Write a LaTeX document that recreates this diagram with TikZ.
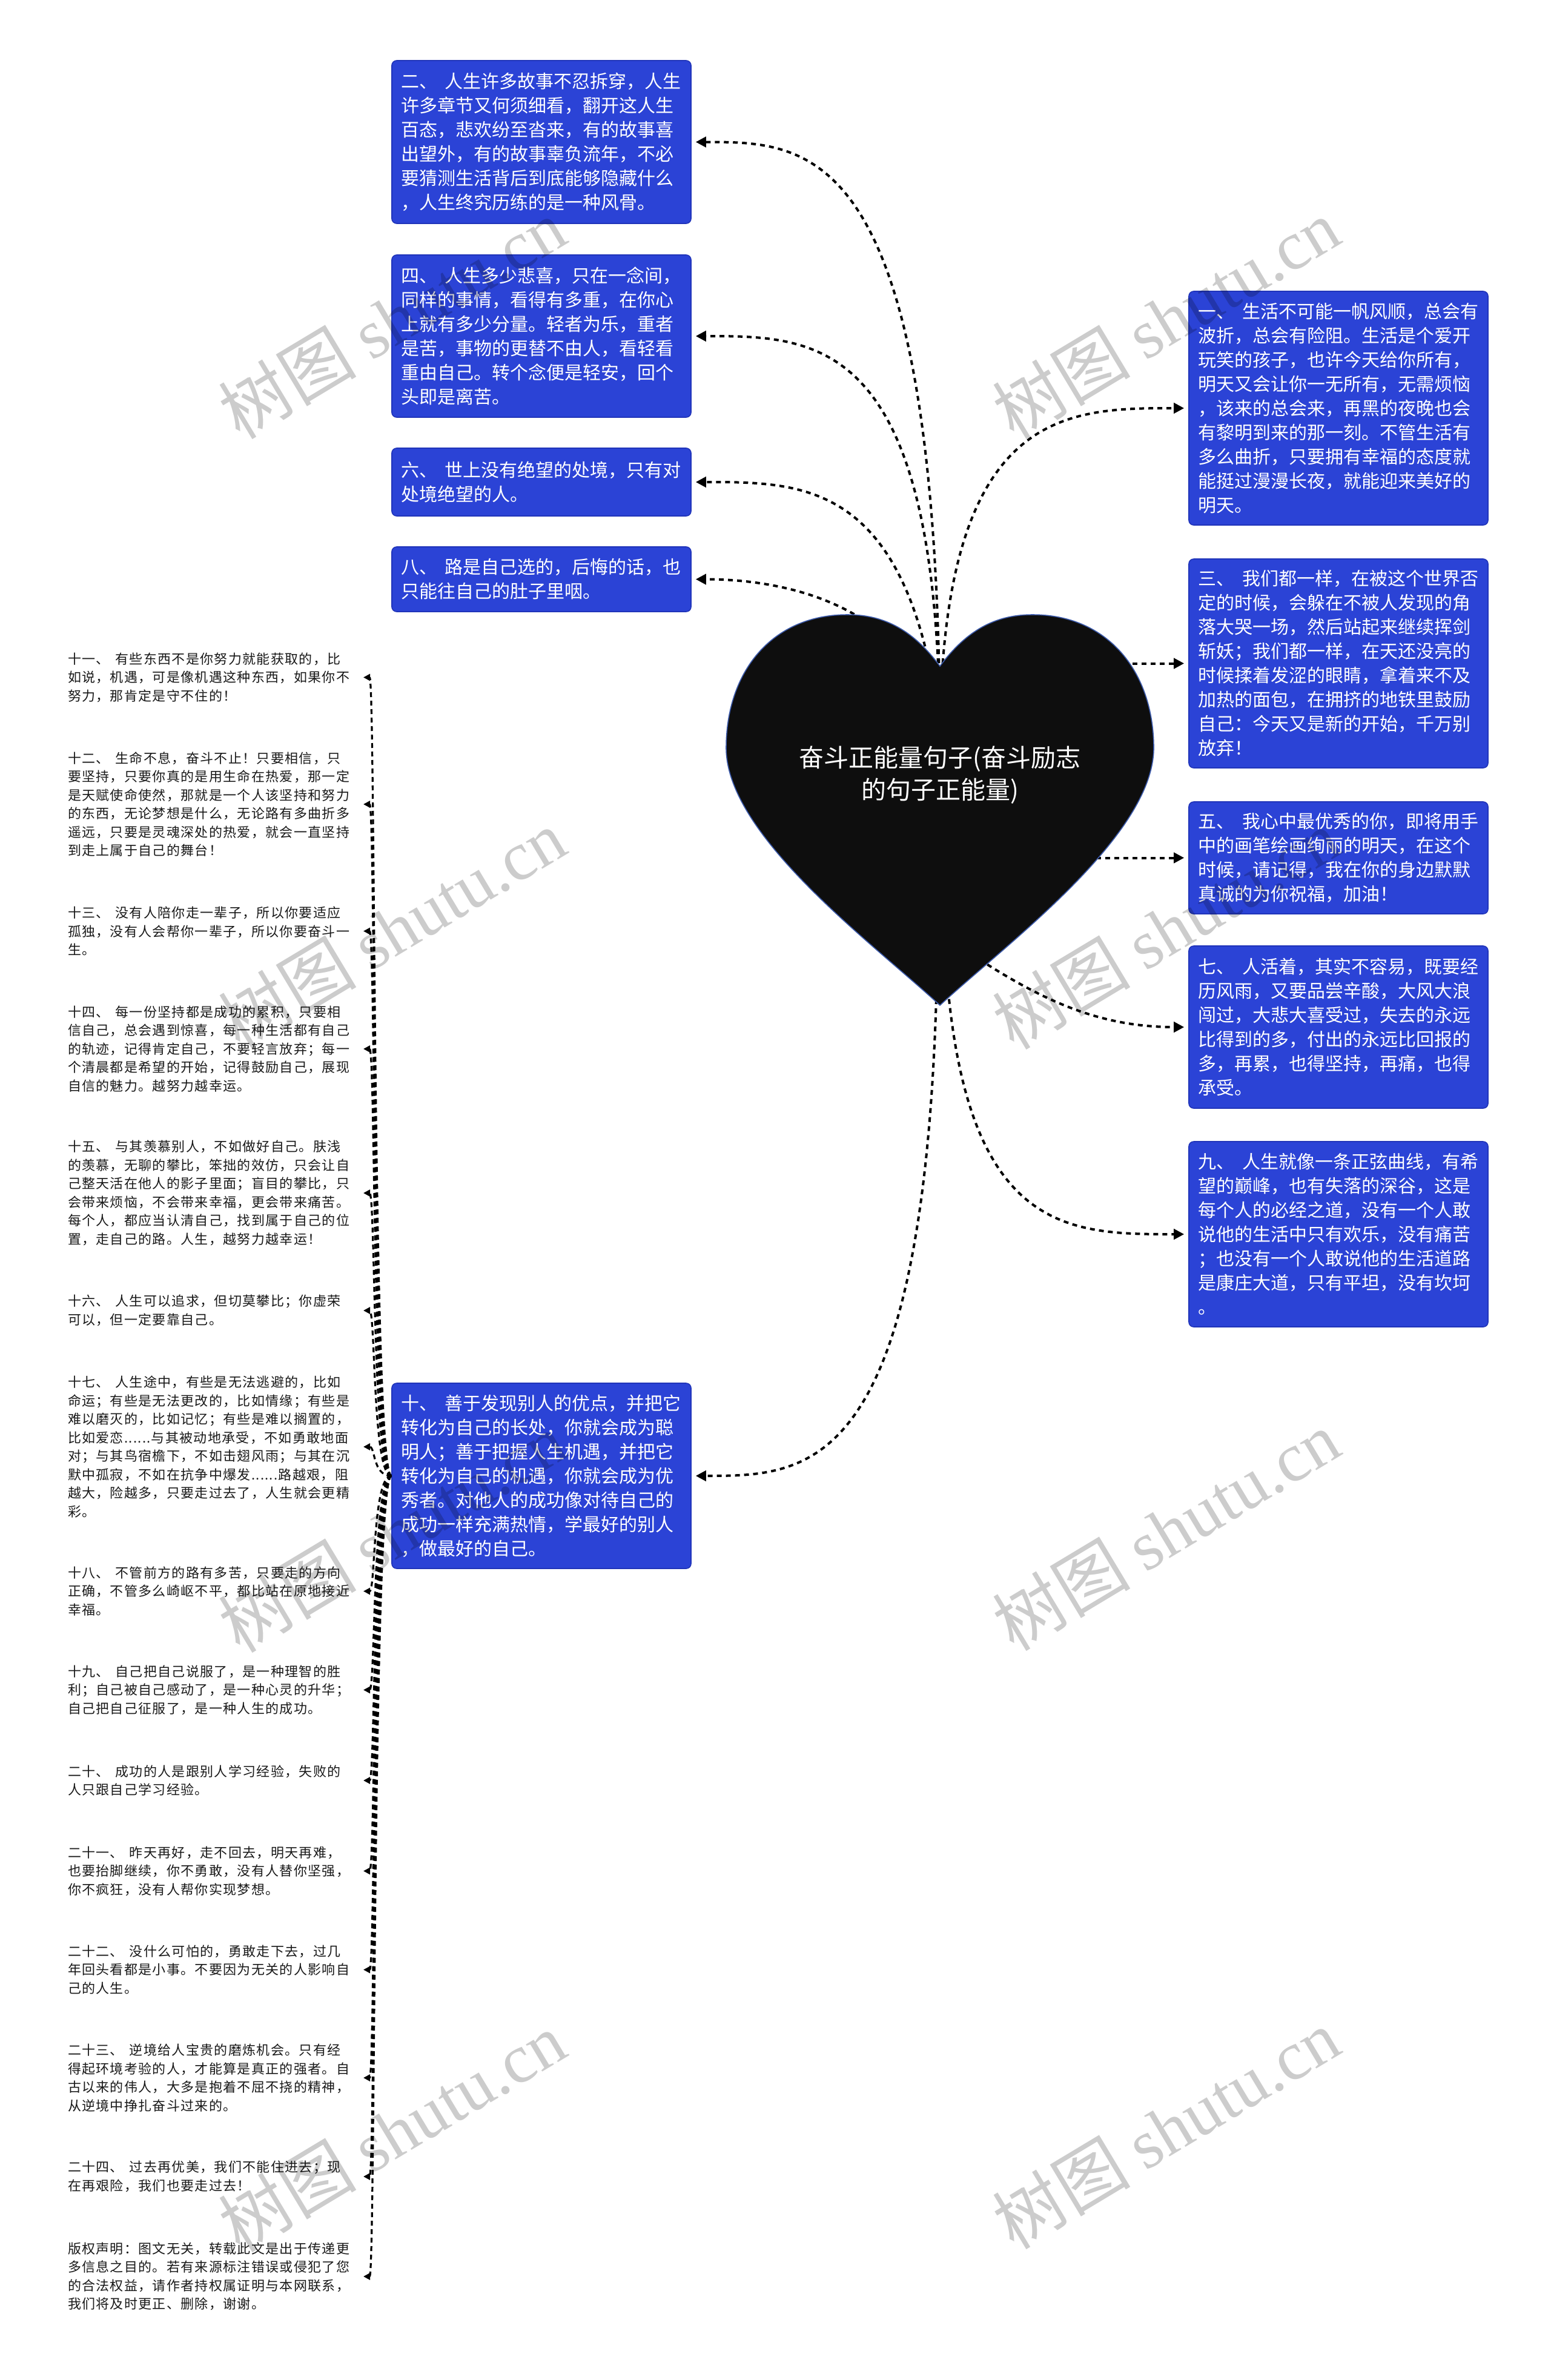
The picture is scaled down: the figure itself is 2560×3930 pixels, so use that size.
\documentclass[tikz,border=0pt]{standalone}
\usepackage{fontspec}
\usetikzlibrary{arrows.meta,calc}
\setmainfont{Noto Sans CJK SC}
\newfontfamily\cjkfont{Noto Sans CJK SC}
\newfontfamily\cjkwide[LetterSpace=6]{Noto Sans CJK SC}
\newfontfamily\wmserif{Liberation Serif}
\definecolor{boxblue}{RGB}{43,67,214}
\definecolor{boxedge}{RGB}{32,52,185}
\definecolor{heartfill}{RGB}{14,14,14}
\definecolor{heartedge}{RGB}{60,90,170}
\newcommand\myboxfont{\cjkfont\fontsize{15pt}{20pt}\selectfont}
\newcommand\myleftfont{\cjkwide\fontsize{11pt}{15.25pt}\selectfont}
\newcommand\mytitlefont{\cjkfont\fontsize{20.5pt}{26.5pt}\selectfont}
\newcommand\mywmfont{\fontsize{57pt}{60pt}\selectfont}
\newcommand\gapB{\kern6.5pt}
\newcommand\gapL{\kern5pt}
\tikzset{
  bluebox/.style={draw=boxedge, line width=0.8pt, fill=boxblue, rounded corners=4pt,
    text=white, text width=232pt, inner xsep=7.5pt, inner ysep=0pt, align=left, font=\myboxfont},
  lefttext/.style={text width=235pt, inner sep=0pt, outer xsep=9pt, align=left,
    font=\myleftfont, text=black!90, anchor=east},
  conn/.style={draw=black, line width=2pt, dash pattern=on 4pt off 3.5pt, shorten >=3.5pt,
    -{Triangle[length=8.5pt,width=8.5pt]}},
  lconn/.style={draw=black, line width=1.6pt, dash pattern=on 4pt off 3pt,
    -{Triangle[length=5.5pt,width=5.5pt]}},
  heartshape/.style={fill=heartfill, draw=heartedge, line width=0.8pt},
  titletext/.style={text=white, align=center, font=\mytitlefont, inner sep=0pt},
  wm/.style={rotate=31, text=black, text opacity=0.2, font=\mywmfont, inner sep=0pt}
}
\begin{document}
\begin{tikzpicture}[x=0.5pt, y=-0.5pt]
\fill[white] (0,0) rectangle (2560,3930);
\useasboundingbox (0,0) rectangle (2560,3930);

% ---------- left blue boxes ----------
\node[bluebox, minimum height=134.5pt] (b2) at (894,234.5) {二、\gapB 人生许多故事不忍拆穿，人生\\许多章节又何须细看，翻开这人生\\百态，悲欢纷至沓来，有的故事喜\\出望外，有的故事辜负流年，不必\\要猜测生活背后到底能够隐藏什么\\，人生终究历练的是一种风骨。};
\node[bluebox, minimum height=134pt] (b4) at (894,555) {四、\gapB 人生多少悲喜，只在一念间，\\同样的事情，看得有多重，在你心\\上就有多少分量。轻者为乐，重者\\是苦，事物的更替不由人，看轻看\\重由自己。转个念便是轻安，回个\\头即是离苦。};
\node[bluebox, minimum height=56pt] (b6) at (894,796) {六、\gapB 世上没有绝望的处境，只有对\\处境绝望的人。};
\node[bluebox, minimum height=53.5pt] (b8) at (894,956.5) {八、\gapB 路是自己选的，后悔的话，也\\只能往自己的肚子里咽。};
\node[bluebox, minimum height=153pt] (b10) at (894,2437) {十、\gapB 善于发现别人的优点，并把它\\转化为自己的长处，你就会成为聪\\明人；善于把握人生机遇，并把它\\转化为自己的机遇，你就会成为优\\秀者。对他人的成功像对待自己的\\成功一样充满热情，学最好的别人\\，做最好的自己。};

% ---------- right blue boxes ----------
\node[bluebox, minimum height=193pt] (b1) at (2210,674) {一、\gapB 生活不可能一帆风顺，总会有\\波折，总会有险阻。生活是个爱开\\玩笑的孩子，也许今天给你所有，\\明天又会让你一无所有，无需烦恼\\，该来的总会来，再黑的夜晚也会\\有黎明到来的那一刻。不管生活有\\多么曲折，只要拥有幸福的态度就\\能挺过漫漫长夜，就能迎来美好的\\明天。};
\node[bluebox, minimum height=172.5pt] (b3) at (2210,1095.5) {三、\gapB 我们都一样，在被这个世界否\\定的时候，会躲在不被人发现的角\\落大哭一场，然后站起来继续挥剑\\斩妖；我们都一样，在天还没亮的\\时候揉着发涩的眼睛，拿着来不及\\加热的面包，在拥挤的地铁里鼓励\\自己：今天又是新的开始，千万别\\放弃！};
\node[bluebox, minimum height=92.5pt] (b5) at (2210,1416.5) {五、\gapB 我心中最优秀的你，即将用手\\中的画笔绘画绚丽的明天，在这个\\时候，请记得，我在你的身边默默\\真诚的为你祝福，加油！};
\node[bluebox, minimum height=134pt] (b7) at (2210,1696) {七、\gapB 人活着，其实不容易，既要经\\历风雨，又要品尝辛酸，大风大浪\\闯过，大悲大喜受过，失去的永远\\比得到的多，付出的永远比回报的\\多，再累，也得坚持，再痛，也得\\承受。};
\node[bluebox, minimum height=153pt] (b9) at (2210,2038) {九、\gapB 人生就像一条正弦曲线，有希\\望的巅峰，也有失落的深谷，这是\\每个人的必经之道，没有一个人敢\\说他的生活中只有欢乐，没有痛苦\\；也没有一个人敢说他的生活道路\\是康庄大道，只有平坦，没有坎坷\\。};

% ---------- left plain texts ----------
\node[lefttext] (t11) at (600,1118.5) {十一、\gapL 有些东西不是你努力就能获取的，比\\如说，机遇，可是像机遇这种东西，如果你不\\努力，那肯定是守不住的！};
\node[lefttext] (t12) at (600,1328) {十二、\gapL 生命不息，奋斗不止！只要相信，只\\要坚持，只要你真的是用生命在热爱，那一定\\是天赋使命使然，那就是一个人该坚持和努力\\的东西，无论梦想是什么，无论路有多曲折多\\遥远，只要是灵魂深处的热爱，就会一直坚持\\到走上属于自己的舞台！};
\node[lefttext] (t13) at (600,1537.5) {十三、\gapL 没有人陪你走一辈子，所以你要适应\\孤独，没有人会帮你一辈子，所以你要奋斗一\\生。};
\node[lefttext] (t14) at (600,1732) {十四、\gapL 每一份坚持都是成功的累积，只要相\\信自己，总会遇到惊喜，每一种生活都有自己\\的轨迹，记得肯定自己，不要轻言放弃；每一\\个清晨都是希望的开始，记得鼓励自己，展现\\自信的魅力。越努力越幸运。};
\node[lefttext] (t15) at (600,1970) {十五、\gapL 与其羡慕别人，不如做好自己。肤浅\\的羡慕，无聊的攀比，笨拙的效仿，只会让自\\己整天活在他人的影子里面；盲目的攀比，只\\会带来烦恼，不会带来幸福，更会带来痛苦。\\每个人，都应当认清自己，找到属于自己的位\\置，走自己的路。人生，越努力越幸运！};
\node[lefttext] (t16) at (600,2164) {十六、\gapL 人生可以追求，但切莫攀比；你虚荣\\可以，但一定要靠自己。};
\node[lefttext] (t17) at (600,2389) {十七、\gapL 人生途中，有些是无法逃避的，比如\\命运；有些是无法更改的，比如情缘；有些是\\难以磨灭的，比如记忆；有些是难以搁置的，\\比如爱恋......与其被动地承受，不如勇敢地面\\对；与其鸟宿檐下，不如击翅风雨；与其在沉\\默中孤寂，不如在抗争中爆发......路越艰，阻\\越大，险越多，只要走过去了，人生就会更精\\彩。};
\node[lefttext] (t18) at (600,2627.5) {十八、\gapL 不管前方的路有多苦，只要走的方向\\正确，不管多么崎岖不平，都比站在原地接近\\幸福。};
\node[lefttext] (t19) at (600,2790.5) {十九、\gapL 自己把自己说服了，是一种理智的胜\\利；自己被自己感动了，是一种心灵的升华；\\自己把自己征服了，是一种人生的成功。};
\node[lefttext] (t20) at (600,2940) {二十、\gapL 成功的人是跟别人学习经验，失败的\\人只跟自己学习经验。};
\node[lefttext] (t21) at (600,3089.5) {二十一、\gapL 昨天再好，走不回去，明天再难，\\也要抬脚继续，你不勇敢，没有人替你坚强，\\你不疯狂，没有人帮你实现梦想。};
\node[lefttext] (t22) at (600,3252.5) {二十二、\gapL 没什么可怕的，勇敢走下去，过几\\年回头看都是小事。不要因为无关的人影响自\\己的人生。};
\node[lefttext] (t23) at (600,3431) {二十三、\gapL 逆境给人宝贵的磨炼机会。只有经\\得起环境考验的人，才能算是真正的强者。自\\古以来的伟人，大多是抱着不屈不挠的精神，\\从逆境中挣扎奋斗过来的。};
\node[lefttext] (t24) at (600,3594) {二十四、\gapL 过去再优美，我们不能住进去；现\\在再艰险，我们也要走过去！};
\node[lefttext] (t25) at (600,3759) {版权声明：图文无关，转载此文是出于传递更\\多信息之目的。若有来源标注错误或侵犯了您\\的合法权益，请作者持权属证明与本网联系，\\我们将及时更正、删除，谢谢。};

% ---------- connectors from box 10 to the left texts ----------
\foreach \t in {t11,t12,t13,t14,t15,t16,t17,t18,t19,t20,t21,t22,t23,t24,t25}{
  \draw[lconn] (b10.west) .. controls (615,2437) and ($(\t.east)+(20,0)$) .. (\t.east);
}

% ---------- heart anchor points (hidden under the heart) ----------
\coordinate (hTop) at (1552,1200);
\coordinate (hR1) at (1750,1095.5);
\coordinate (hR2) at (1750,1416.5);
\coordinate (hR3) at (1580,1560);
\coordinate (hB9) at (1560,1560);
\coordinate (hB10) at (1548,1560);

% ---------- connectors from the heart ----------
\draw[conn] (hTop) .. controls (1545,234.5) and (1340,234.5) .. (b2.east);
\draw[conn] (hTop) .. controls (1545,555) and (1350,555) .. (b4.east);
\draw[conn] (hTop) .. controls (1500,796) and (1330,796) .. (b6.east);
\draw[conn] (hTop) .. controls (1500,1000) and (1300,956.5) .. (b8.east);
\draw[conn] (hTop) .. controls (1560,674) and (1760,674) .. (b1.west);
\draw[conn] (hR1) -- (b3.west);
\draw[conn] (hR2) -- (b5.west);
\draw[conn] (hR3) .. controls (1700,1640) and (1800,1696) .. (b7.west);
\draw[conn] (hB9) .. controls (1585,2038) and (1760,2038) .. (b9.west);
\draw[conn] (hB10) .. controls (1535,2437) and (1340,2437) .. (b10.east);

% ---------- heart ----------
\draw[heartshape] (1552,1100)
  .. controls (1600,1035) and (1650,1015) .. (1705,1015)
  .. controls (1830,1015) and (1905,1110) .. (1905,1235)
  .. controls (1905,1380) and (1660,1560) .. (1552,1660)
  .. controls (1444,1560) and (1199,1380) .. (1199,1235)
  .. controls (1199,1110) and (1274,1015) .. (1399,1015)
  .. controls (1454,1015) and (1504,1035) .. (1552,1100) -- cycle;
\node[titletext] (title) at (1552,1280) {奋斗正能量句子(奋斗励志\\的句子正能量)};

% ---------- watermarks ----------
\node[wm] (w1) at (647,526) {\cjkfont 树图 \wmserif shutu.cn};
\node[wm] (w2) at (1925,526) {\cjkfont 树图 \wmserif shutu.cn};
\node[wm] (w3) at (647,1534) {\cjkfont 树图 \wmserif shutu.cn};
\node[wm] (w4) at (1925,1534) {\cjkfont 树图 \wmserif shutu.cn};
\node[wm] (w5) at (647,2530) {\cjkfont 树图 \wmserif shutu.cn};
\node[wm] (w6) at (1925,2527) {\cjkfont 树图 \wmserif shutu.cn};
\node[wm] (w7) at (647,3520) {\cjkfont 树图 \wmserif shutu.cn};
\node[wm] (w8) at (1925,3515) {\cjkfont 树图 \wmserif shutu.cn};
\end{tikzpicture}
\end{document}
